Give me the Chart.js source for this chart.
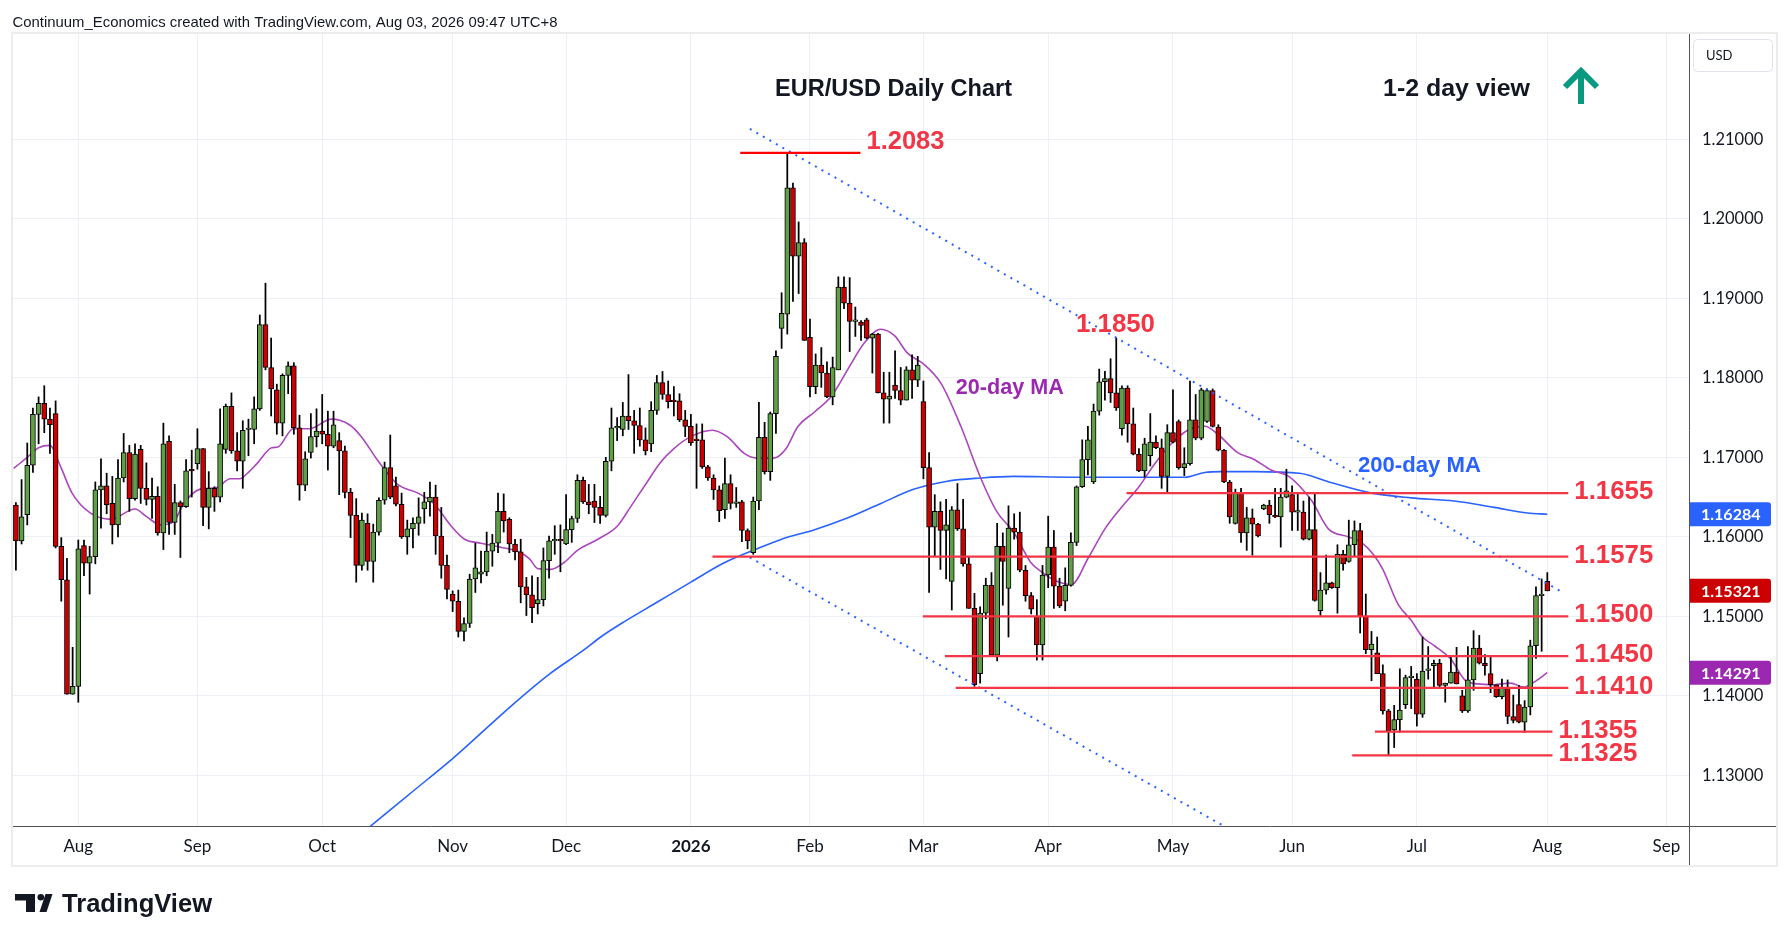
<!DOCTYPE html>
<html><head><meta charset="utf-8">
<script src="https://cdn.jsdelivr.net/npm/chart.js@4.4.1/dist/chart.umd.min.js"></script>
<style>html,body{margin:0;padding:0;background:#fff;}canvas{display:block;}</style>
</head><body>
<canvas id="c" width="1789" height="941" style="width:1789px;height:941px"></canvas>
<script>
// ---- Daily OHLC, bar 1 = 17 Jul 2025 ... bar 271 = 3 Aug 2026 ----
const opens = [
1.1640,1.1595,1.1628,1.1690,1.1754,1.1768,1.1748,1.1755,1.1588,1.1546,
1.1402,1.1412,1.1589,1.1567,1.1575,1.1659,1.1664,1.1642,1.1615,1.1674,
1.1706,1.1648,1.1710,1.1661,1.1647,1.1651,1.1605,1.1720,1.1618,1.1643,
1.1638,1.1685,1.1692,1.1711,1.1637,1.1661,1.1650,1.1710,1.1764,1.1708,
1.1695,1.1735,1.1735,1.1761,1.1867,1.1813,1.1785,1.1743,1.1803,1.1815,
1.1737,1.1665,1.1706,1.1726,1.1733,1.1729,1.1714,1.1721,1.1708,1.1656,
1.1627,1.1564,1.1617,1.1569,1.1606,1.1646,1.1687,1.1664,1.1641,1.1600,
1.1610,1.1617,1.1635,1.1644,1.1650,1.1601,1.1564,1.1528,1.1519,1.1481,
1.1491,1.1547,1.1553,1.1556,1.1582,1.1592,1.1632,1.1622,1.1591,1.1581,
1.1537,1.1527,1.1516,1.1521,1.1570,1.1595,1.1596,1.1591,1.1609,1.1623,
1.1671,1.1644,1.1645,1.1637,1.1627,1.1695,1.1737,1.1735,1.1752,1.1746,
1.1740,1.1722,1.1717,1.1759,1.1794,1.1779,1.1771,1.1771,1.1747,1.1739,
1.1722,1.1722,1.1688,1.1674,1.1659,1.1634,1.1667,1.1642,1.1644,1.1608,
1.1580,1.1645,1.1725,1.1682,1.1755,1.1862,1.1880,1.2039,1.1953,1.1970,
1.1851,1.1789,1.1816,1.1806,1.1776,1.1810,1.1914,1.1894,1.1871,1.1870,
1.1873,1.1850,1.1855,1.1781,1.1773,1.1791,1.1784,1.1772,1.1810,1.1797,
1.1770,1.1687,1.1612,1.1632,1.1608,1.1544,1.1634,1.1610,1.1566,1.1510,
1.1428,1.1504,1.1539,1.1451,1.1588,1.1535,1.1611,1.1606,1.1558,1.1526,
1.1500,1.1464,1.1552,1.1587,1.1538,1.1519,1.1539,1.1593,1.1663,1.1697,
1.1669,1.1758,1.1795,1.1799,1.1781,1.1736,1.1787,1.1742,1.1704,1.1683,
1.1702,1.1719,1.1712,1.1676,1.1731,1.1745,1.1687,1.1692,1.1747,1.1724,
1.1745,1.1784,1.1738,1.1709,1.1669,1.1617,1.1655,1.1605,1.1624,1.1616,
1.1635,1.1640,1.1627,1.1625,1.1650,1.1653,1.1631,1.1631,1.1597,1.1609,
1.1507,1.1533,1.1542,1.1536,1.1578,1.1569,1.1590,1.1608,1.1500,1.1458,
1.1454,1.1428,1.1381,1.1357,1.1370,1.1389,1.1423,1.1421,1.1377,1.1432,
1.1438,1.1441,1.1413,1.1416,1.1430,1.1400,1.1381,1.1420,1.1460,1.1441,
1.1428,1.1414,1.1399,1.1410,1.1374,1.1389,1.1367,1.1386,1.1463,1.1526,
1.1544];
const highs = [
1.1643,1.1672,1.1718,1.1762,1.1776,1.1790,1.1762,1.1771,1.1599,1.1573,
1.1461,1.1596,1.1596,1.1588,1.1669,1.1698,1.1680,1.1676,1.1697,1.1730,
1.1715,1.1717,1.1715,1.1693,1.1674,1.1663,1.1743,1.1727,1.1666,1.1645,
1.1697,1.1709,1.1736,1.1711,1.1682,1.1663,1.1761,1.1767,1.1781,1.1731,
1.1746,1.1748,1.1776,1.1879,1.1919,1.1850,1.1792,1.1805,1.1820,1.1819,
1.1753,1.1707,1.1755,1.1761,1.1779,1.1758,1.1758,1.1731,1.1714,1.1661,
1.1648,1.1630,1.1629,1.1616,1.1649,1.1694,1.1728,1.1675,1.1655,1.1621,
1.1624,1.1649,1.1656,1.1669,1.1665,1.1637,1.1577,1.1532,1.1533,1.1498,
1.1553,1.1592,1.1582,1.1606,1.1603,1.1655,1.1654,1.1624,1.1597,1.1597,
1.1549,1.1551,1.1549,1.1586,1.1601,1.1614,1.1615,1.1653,1.1626,1.1678,
1.1675,1.1666,1.1666,1.1651,1.1700,1.1762,1.1750,1.1769,1.1804,1.1759,
1.1762,1.1737,1.1770,1.1803,1.1808,1.1796,1.1789,1.1780,1.1759,1.1754,
1.1742,1.1742,1.1690,1.1678,1.1664,1.1699,1.1678,1.1662,1.1646,1.1610,
1.1650,1.1769,1.1744,1.1757,1.1834,1.1907,1.2083,1.2045,1.1996,1.1975,
1.1874,1.1830,1.1838,1.1820,1.1826,1.1927,1.1927,1.1926,1.1889,1.1872,
1.1875,1.1856,1.1856,1.1807,1.1807,1.1834,1.1813,1.1814,1.1829,1.1827,
1.1796,1.1706,1.1653,1.1644,1.1647,1.1638,1.1667,1.1647,1.1575,1.1529,
1.1512,1.1548,1.1555,1.1617,1.1605,1.1639,1.1629,1.1631,1.1564,1.1530,
1.1521,1.1564,1.1626,1.1608,1.1548,1.1561,1.1605,1.1664,1.1722,1.1739,
1.1767,1.1811,1.1808,1.1824,1.1850,1.1790,1.1790,1.1762,1.1711,1.1724,
1.1755,1.1727,1.1723,1.1741,1.1785,1.1747,1.1712,1.1796,1.1779,1.1787,
1.1786,1.1786,1.1741,1.1710,1.1671,1.1660,1.1661,1.1637,1.1635,1.1617,
1.1641,1.1646,1.1661,1.1661,1.1685,1.1664,1.1655,1.1645,1.1650,1.1655,
1.1555,1.1577,1.1543,1.1590,1.1583,1.1621,1.1620,1.1617,1.1528,1.1481,
1.1474,1.1439,1.1383,1.1388,1.1434,1.1426,1.1437,1.1428,1.1474,1.1462,
1.1445,1.1446,1.1416,1.1449,1.1461,1.1407,1.1462,1.1482,1.1476,1.1452,
1.1449,1.1414,1.1421,1.1420,1.1401,1.1413,1.1394,1.1470,1.1537,1.1547,
1.1555];
const lows = [
1.1558,1.1591,1.1615,1.1681,1.1717,1.1731,1.1705,1.1586,1.1519,1.1402,
1.1402,1.1392,1.1551,1.1528,1.1566,1.1611,1.1629,1.1591,1.1600,1.1669,
1.1632,1.1646,1.1642,1.1640,1.1623,1.1602,1.1584,1.1603,1.1603,1.1574,
1.1637,1.1650,1.1685,1.1614,1.1610,1.1632,1.1644,1.1705,1.1705,1.1683,
1.1661,1.1702,1.1717,1.1759,1.1810,1.1752,1.1729,1.1727,1.1780,1.1729,
1.1646,1.1658,1.1699,1.1713,1.1717,1.1684,1.1712,1.1653,1.1649,1.1599,
1.1543,1.1558,1.1558,1.1543,1.1602,1.1641,1.1648,1.1639,1.1598,1.1578,
1.1586,1.1602,1.1617,1.1626,1.1578,1.1548,1.1522,1.1506,1.1474,1.1469,
1.1486,1.1530,1.1542,1.1551,1.1563,1.1580,1.1606,1.1580,1.1571,1.1517,
1.1501,1.1492,1.1503,1.1513,1.1548,1.1578,1.1556,1.1590,1.1593,1.1618,
1.1642,1.1629,1.1618,1.1617,1.1625,1.1683,1.1721,1.1727,1.1735,1.1705,
1.1714,1.1703,1.1707,1.1754,1.1773,1.1762,1.1752,1.1745,1.1726,1.1715,
1.1661,1.1686,1.1671,1.1647,1.1619,1.1623,1.1635,1.1637,1.1594,1.1585,
1.1578,1.1634,1.1679,1.1671,1.1730,1.1837,1.1855,1.1896,1.1906,1.1847,
1.1776,1.1780,1.1788,1.1775,1.1766,1.1810,1.1887,1.1833,1.1852,1.1847,
1.1849,1.1806,1.1781,1.1743,1.1743,1.1774,1.1766,1.1772,1.1774,1.1789,
1.1673,1.1530,1.1575,1.1559,1.1547,1.1508,1.1608,1.1563,1.1510,1.1412,
1.1416,1.1497,1.1451,1.1444,1.1514,1.1474,1.1597,1.1556,1.1519,1.1503,
1.1445,1.1445,1.1536,1.1510,1.1511,1.1507,1.1538,1.1589,1.1662,1.1678,
1.1667,1.1753,1.1772,1.1769,1.1759,1.1728,1.1719,1.1703,1.1682,1.1675,
1.1689,1.1711,1.1661,1.1656,1.1718,1.1685,1.1677,1.1690,1.1722,1.1722,
1.1744,1.1738,1.1708,1.1668,1.1617,1.1616,1.1593,1.1583,1.1577,1.1600,
1.1634,1.1617,1.1624,1.1587,1.1649,1.1608,1.1608,1.1596,1.1596,1.1519,
1.1501,1.1528,1.1535,1.1504,1.1558,1.1568,1.1576,1.1479,1.1453,1.1419,
1.1428,1.1377,1.1325,1.1335,1.1354,1.1384,1.1384,1.1362,1.1373,1.1421,
1.1410,1.1409,1.1392,1.1416,1.1415,1.1379,1.1379,1.1407,1.1440,1.1426,
1.1404,1.1398,1.1396,1.1365,1.1366,1.1366,1.1354,1.1376,1.1447,1.1456,
1.1532];
const closes = [
1.1595,1.1625,1.1690,1.1754,1.1768,1.1748,1.1741,1.1588,1.1546,1.1402,
1.1412,1.1585,1.1567,1.1575,1.1659,1.1664,1.1640,1.1615,1.1674,1.1706,
1.1648,1.1704,1.1661,1.1647,1.1651,1.1605,1.1717,1.1618,1.1643,1.1638,
1.1683,1.1683,1.1711,1.1637,1.1661,1.1650,1.1717,1.1764,1.1708,1.1695,
1.1734,1.1736,1.1761,1.1867,1.1813,1.1786,1.1743,1.1803,1.1815,1.1737,
1.1665,1.1698,1.1726,1.1733,1.1729,1.1714,1.1741,1.1708,1.1656,1.1627,
1.1564,1.1621,1.1569,1.1606,1.1646,1.1687,1.1650,1.1641,1.1600,1.1610,
1.1617,1.1625,1.1644,1.1650,1.1601,1.1564,1.1534,1.1519,1.1481,1.1491,
1.1547,1.1561,1.1556,1.1582,1.1592,1.1632,1.1620,1.1591,1.1581,1.1537,
1.1527,1.1511,1.1521,1.1570,1.1595,1.1596,1.1595,1.1609,1.1623,1.1671,
1.1644,1.1640,1.1637,1.1627,1.1695,1.1737,1.1738,1.1752,1.1746,1.1740,
1.1722,1.1708,1.1759,1.1794,1.1779,1.1770,1.1770,1.1747,1.1739,1.1718,
1.1721,1.1688,1.1674,1.1659,1.1633,1.1667,1.1642,1.1644,1.1608,1.1595,
1.1645,1.1725,1.1682,1.1755,1.1827,1.1881,1.2039,1.1953,1.1970,1.1847,
1.1789,1.1816,1.1806,1.1776,1.1813,1.1914,1.1894,1.1871,1.1871,1.1866,
1.1850,1.1855,1.1781,1.1773,1.1777,1.1784,1.1772,1.1810,1.1797,1.1816,
1.1687,1.1612,1.1632,1.1608,1.1615,1.1634,1.1610,1.1566,1.1510,1.1414,
1.1504,1.1539,1.1451,1.1588,1.1569,1.1611,1.1606,1.1558,1.1526,1.1509,
1.1464,1.1552,1.1587,1.1538,1.1513,1.1539,1.1593,1.1663,1.1697,1.1722,
1.1758,1.1795,1.1799,1.1781,1.1762,1.1787,1.1742,1.1704,1.1683,1.1717,
1.1719,1.1712,1.1676,1.1731,1.1719,1.1687,1.1692,1.1747,1.1724,1.1785,
1.1784,1.1739,1.1709,1.1669,1.1625,1.1655,1.1605,1.1624,1.1616,1.1601,
1.1640,1.1628,1.1625,1.1650,1.1658,1.1631,1.1631,1.1597,1.1609,1.1520,
1.1533,1.1542,1.1536,1.1578,1.1566,1.1590,1.1608,1.1500,1.1458,1.1465,
1.1428,1.1381,1.1356,1.1370,1.1382,1.1423,1.1423,1.1377,1.1431,1.1432,
1.1441,1.1413,1.1416,1.1430,1.1415,1.1381,1.1420,1.1460,1.1441,1.1438,
1.1414,1.1399,1.1410,1.1374,1.1369,1.1367,1.1386,1.1463,1.1526,1.1526,
1.15321];

// 20-day moving average (bar position, value)
const ma20X = [0.6,3,5,7,8.9,10.9,14.1,17.7,22,24.1,26.5,28.8,30.6,33.5,36.4,38.8,40.5,41.7,43.5,46.1,47.2,49.9,52.8,56.6,59.8,61.9,64.8,68.3,71.9,74.8,77.7,80.1,83,86.5,90,91.6,93,95.3,97.7,100,103.6,107.1,109.4,112.3,114.7,117,120,123.8,126.4,129.4,131.7,134.6,136.7,138.9,141.8,144.8,147.7,150.6,153.5,155.9,158.2,161.1,164.1,167.6,171.1,174,176.9,179.9,182,184.2,187.1,190.1,193,195.9,198.9,201.8,204.7,207.6,210.6,212.9,216.4,219.4,222.3,225.2,227.3,229.5,232.4,235.9,238.2,240.3,242,244.7,247,249,251.1,254,256.6,258.7,261.6,264.5,266.9,268.6,271];
const ma20Y = [1.1686,1.1700,1.1712,1.1715,1.1688,1.1655,1.1630,1.1622,1.1635,1.1625,1.1615,1.1619,1.1642,1.1660,1.1662,1.1673,1.1673,1.1679,1.1692,1.1712,1.1713,1.1736,1.1736,1.1748,1.1741,1.1726,1.1696,1.1666,1.1655,1.1641,1.1614,1.1597,1.1592,1.1587,1.1580,1.1572,1.1560,1.1559,1.1568,1.1583,1.1597,1.1614,1.1638,1.1669,1.1694,1.1711,1.1726,1.1734,1.1726,1.1705,1.1699,1.1699,1.1710,1.1739,1.1757,1.1777,1.1811,1.1844,1.1861,1.1853,1.1831,1.1817,1.1793,1.1739,1.1674,1.1631,1.1606,1.1568,1.1555,1.1545,1.1540,1.1574,1.1610,1.1637,1.1662,1.1692,1.1717,1.1734,1.1739,1.1729,1.1706,1.1697,1.1684,1.1677,1.1664,1.1645,1.1610,1.1600,1.1593,1.1578,1.1559,1.1515,1.1495,1.1474,1.1463,1.1446,1.1419,1.1415,1.1414,1.1416,1.1411,1.1417,1.14291];

// 200-day moving average
const ma200X = [60,64,71,78,88.6,95,101.2,104.1,108.2,114.1,120,125.8,131.7,136,141.8,147.7,153.5,159.4,165.2,171.1,176.9,187.1,198.9,207.1,210.6,213.5,219.4,227.3,233,240,247,254.6,261.6,267.5,271];
const ma200Y = [1.1215,1.1239,1.1280,1.1321,1.1389,1.1427,1.1458,1.1474,1.1493,1.1518,1.1543,1.1567,1.1585,1.1597,1.1609,1.1624,1.1642,1.1660,1.1670,1.1674,1.1676,1.1675,1.1675,1.1675,1.1681,1.1682,1.1682,1.1680,1.1668,1.1655,1.1649,1.1645,1.1637,1.1630,1.16284];

// Horizontal levels (value, first bar, last bar)
const levelValues = [1.2083, 1.1655, 1.1575, 1.1500, 1.1450, 1.1410, 1.1355, 1.1325];
const levelStart  = [128.7, 196.8, 123.8, 160.9, 164.8, 166.7, 240.6, 236.6];
const levelEnd    = [149.9, 274.7, 274.7, 274.7, 274.7, 274.7, 271.9, 271.9];

// Dotted channel lines (bar, value)
const trendUpperX = [130.4, 273.5], trendUpperY = [1.2113, 1.1531];
const trendLowerX = [130.4, 216.0], trendLowerY = [1.1574, 1.1228];

// Axis ticks
const monthTickIdx   = [12, 33, 55, 78, 98, 120, 141, 161, 183, 205, 226, 248, 271, 292];
const monthTickLabel = ['Aug','Sep','Oct','Nov','Dec','2026','Feb','Mar','Apr','May','Jun','Jul','Aug','Sep'];
const priceTicks = [1.13, 1.14, 1.15, 1.16, 1.17, 1.18, 1.19, 1.20, 1.21];
const highMark = 1.1850;

// ---- styles ----
const UP = '#5FA046', DOWN = '#CC0000';
const LEVEL_RED = '#F23645';
const MA20_COL = '#AB47BC', MA200_COL = '#2962FF';

const N = opens.length;
const bars = Array.from({length: N}, (_, i) => i + 1);
const pts = (xs, ys) => xs.map((x, i) => ({x, y: ys[i]}));

const datasets = [];
levelValues.forEach((v, k) => datasets.push({
  type: 'line', data: [{x: levelStart[k], y: v}, {x: levelEnd[k], y: v}],
  borderColor: k === 0 ? '#FF0000' : LEVEL_RED, borderWidth: 2.2, pointRadius: 0, order: 0
}));
datasets.push({type:'line', data: pts(trendUpperX, trendUpperY), borderColor:'#2962FF', borderWidth:2, borderDash:[2,5.5], pointRadius:0, order:0});
datasets.push({type:'line', data: pts(trendLowerX, trendLowerY), borderColor:'#2962FF', borderWidth:2, borderDash:[2,5.5], pointRadius:0, order:0});
datasets.push({type:'bar', data: bars.map((x,i)=>({x, y:[opens[i], closes[i]]})),
  backgroundColor: bars.map((x,i)=> closes[i] >= opens[i] ? UP : DOWN),
  borderColor:'#000', borderWidth:1, borderSkipped:false, barThickness:5, minBarLength:1.5, grouped:false, order:2});
datasets.push({type:'bar', data: bars.map((x,i)=>({x, y:[lows[i], highs[i]]})),
  backgroundColor:'#000', borderWidth:0, barThickness:1.1, grouped:false, order:3});
datasets.push({type:'line', data: pts(ma20X, ma20Y), borderColor: MA20_COL, borderWidth:1.6, pointRadius:0, tension:0.35, cubicInterpolationMode:'monotone', order:4});
datasets.push({type:'line', data: pts(ma200X, ma200Y), borderColor: MA200_COL, borderWidth:1.6, pointRadius:0, tension:0.35, cubicInterpolationMode:'monotone', order:5});

function fitText(c, txt, x, y, w, size, weight, family, color, baseline) {
  c.save();
  c.font = weight + ' ' + size + 'px ' + family;
  c.fillStyle = color; c.textAlign = 'left'; c.textBaseline = baseline || 'alphabetic';
  const m = c.measureText(txt).width;
  c.translate(x, y); c.scale(w / m, 1); c.fillText(txt, 0, 0);
  c.restore();
}

const deco = {
  id: 'deco',
  beforeDraw(chart) {
    const c = chart.ctx; c.save(); c.fillStyle = '#fff'; c.fillRect(0, 0, chart.width, chart.height); c.restore();
  },
  afterDraw(chart) {
    const c = chart.ctx, xs = chart.scales.x, ys = chart.scales.y, a = chart.chartArea;
    const LBL = '"Liberation Sans", Arial, sans-serif';
    // outer frame
    c.save();
    c.strokeStyle = '#ececec'; c.lineWidth = 2;
    c.strokeRect(12, 33, 1765, 833);
    // axis extensions
    c.strokeStyle = '#50535e'; c.lineWidth = 1;
    c.beginPath(); c.moveTo(a.right, a.bottom + 0.5); c.lineTo(1776, a.bottom + 0.5);
    c.moveTo(a.right + 0.5, a.bottom); c.lineTo(a.right + 0.5, 865); c.stroke();
    c.restore();

    // header
    fitText(c, 'Continuum_Economics created with TradingView.com, Aug 03, 2026 09:47 UTC+8', 12.5, 26.5, 545, 15, 'normal', LBL, '#131722');
    // titles
    fitText(c, 'EUR/USD Daily Chart', 775, 96, 237, 23, 'bold', LBL, '#131722');
    fitText(c, '1-2 day view', 1383, 96, 147, 23, 'bold', LBL, '#131722');
    // arrow
    c.save(); c.strokeStyle = '#089981'; c.lineWidth = 6; c.lineCap = 'butt'; c.lineJoin = 'miter';
    c.beginPath(); c.moveTo(1581, 104); c.lineTo(1581, 72); c.stroke();
    c.beginPath(); c.moveTo(1565, 87); c.lineTo(1581, 71); c.lineTo(1597, 87); c.stroke();
    c.restore();

    // level labels
    levelValues.forEach((v, k) => {
      const x = xs.getPixelForValue(levelEnd[k]) + 6;
      const y = ys.getPixelForValue(v);
      if (k === 0) fitText(c, v.toFixed(4), x, y - 4, 78, 25.5, 'bold', LBL, LEVEL_RED);
      else fitText(c, v.toFixed(4), x, y + 6, 79, 25.5, 'bold', LBL, LEVEL_RED);
    });
    fitText(c, highMark.toFixed(4), xs.getPixelForValue(187.9), ys.getPixelForValue(highMark) - 6, 79, 25.5, 'bold', LBL, LEVEL_RED);
    // MA labels
    fitText(c, '20-day MA', xs.getPixelForValue(166.7), ys.getPixelForValue(1.1780), 108, 22, 'bold', LBL, '#9C27B0');
    fitText(c, '200-day MA', xs.getPixelForValue(237.6), ys.getPixelForValue(1.1682), 123, 22, 'bold', LBL, '#2962FF');

    // USD box
    c.save(); c.strokeStyle = '#e0e3eb'; c.lineWidth = 1;
    c.beginPath(); c.roundRect(1693.5, 39.5, 79, 32, 4); c.stroke();
    c.fillStyle = '#131722'; c.font = '13px Lato, sans-serif'; c.textBaseline = 'middle';
    c.fillText('USD', 1706, 56);
    c.restore();

    // price tags
    const tags = [[ma200Y[ma200Y.length-1], '#2962FF'], [closes[N-1], '#CC0000'], [ma20Y[ma20Y.length-1], '#9C27B0']];
    tags.forEach(([v, col]) => {
      const y = ys.getPixelForValue(v);
      c.save(); c.fillStyle = col;
      c.beginPath(); c.roundRect(1690, y - 12, 81, 24, [0, 3, 3, 0]); c.fill();
      c.fillStyle = '#fff'; c.font = 'bold 16px Lato, sans-serif'; c.textBaseline = 'middle';
      c.fillText(v.toFixed(5), 1701, y + 1);
      c.restore();
    });

    // TradingView logo
    c.save(); c.fillStyle = '#131722';
    c.fillRect(15, 894, 20, 6.5); c.fillRect(26, 894, 9, 18);
    c.beginPath(); c.arc(40.8, 897.3, 3.3, 0, Math.PI * 2); c.fill();
    c.beginPath(); c.moveTo(39.5, 912); c.lineTo(46.5, 912); c.lineTo(52.5, 894); c.lineTo(45.5, 894); c.closePath(); c.fill();
    c.restore();
    fitText(c, 'TradingView', 62, 912, 150, 25, 'bold', LBL, '#131722');
  }
};

new Chart(document.getElementById('c'), {
  type: 'bar',
  data: { datasets },
  options: {
    responsive: false, animation: false, devicePixelRatio: 1,
    layout: { padding: { left: 12, top: 34, right: 13, bottom: 76 } },
    plugins: { legend: { display: false }, tooltip: { enabled: false } },
    scales: {
      x: {
        type: 'linear', min: 0.31, max: 295.98, offset: false,
        afterBuildTicks: s => { s.ticks = monthTickIdx.map(v => ({ value: v })); },
        afterFit: s => { s.height = 39; },
        ticks: {
          autoSkip: false, maxRotation: 0, padding: 10, color: '#131722',
          font: ctx => ({ family: 'Lato, sans-serif', size: 17, weight: monthTickLabel[ctx.index] === '2026' ? 'bold' : 'normal' }),
          callback: (v, i) => monthTickLabel[i]
        },
        grid: { color: '#edf1f6', drawTicks: false, offset: false },
        border: { display: true, color: '#50535e', width: 1 }
      },
      y: {
        type: 'linear', position: 'right', min: 1.12363, max: 1.22324,
        afterBuildTicks: s => { s.ticks = priceTicks.map(v => ({ value: v })); },
        afterFit: s => { s.width = 87; },
        ticks: { padding: 13, color: '#131722', font: { family: 'Lato, sans-serif', size: 16.5 }, callback: v => v.toFixed(5) },
        grid: { color: '#edf1f6', drawTicks: false },
        border: { display: true, color: '#50535e', width: 1 }
      }
    }
  },
  plugins: [deco]
});
</script>
</body></html>
